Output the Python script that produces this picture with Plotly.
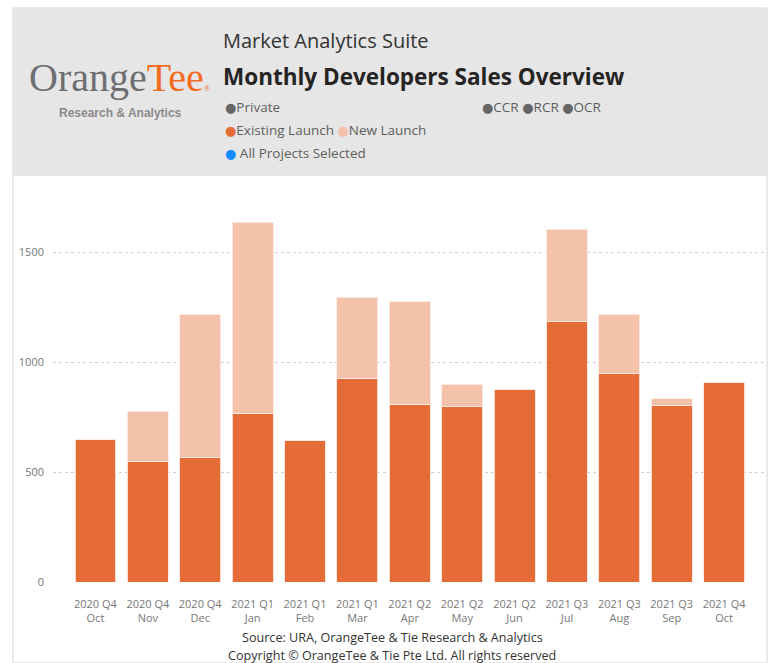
import plotly.graph_objects as go

W, H = 772, 663

quarters = ["2020 Q4", "2020 Q4", "2020 Q4", "2021 Q1", "2021 Q1", "2021 Q1",
            "2021 Q2", "2021 Q2", "2021 Q2", "2021 Q3", "2021 Q3", "2021 Q3", "2021 Q4"]
months = ["Oct", "Nov", "Dec", "Jan", "Feb", "Mar", "Apr", "May", "Jun",
          "Jul", "Aug", "Sep", "Oct"]
existing_launch = [650, 550, 564, 768, 645, 927, 809, 800, 873, 1183, 947, 803, 909]
new_launch = [0, 227, 654, 868, 0, 368, 464, 100, 0, 420, 270, 30, 0]
y_ticks = [0, 500, 1000, 1500]

labels = [f"{q}<br>{m}" for q, m in zip(quarters, months)]

ORANGE = "#E66C37"
PEACH = "#F4C2AB"
FONT = "Open Sans, Noto Sans, sans-serif"


def px(x):
    return x / W


def py(y):
    return 1 - y / H


fig = go.Figure()
fig.add_trace(go.Bar(x=labels, y=existing_launch, name="Existing Launch",
                     marker=dict(color=ORANGE, line=dict(color="rgba(255,230,220,0.9)", width=1))))
fig.add_trace(go.Bar(x=labels, y=new_launch, name="New Launch",
                     marker=dict(color=PEACH, line=dict(color="rgba(255,235,228,0.9)", width=1))))

plot_top, plot_bot = 195, 582
units_per_px = 500 / 110
fig.update_layout(
    width=W, height=H, barmode="stack", bargap=0.22,
    margin=dict(l=0, r=0, t=0, b=0),
    paper_bgcolor="white", plot_bgcolor="white",
    showlegend=False,
    font=dict(family=FONT, color="#777"),
    xaxis=dict(domain=[px(53), px(765)], range=[-0.81, 12.78], automargin=False,
               tickvals=labels, ticktext=labels, showgrid=False, showline=False,
               tickfont=dict(size=11, color="#777"), ticks="", ticklabelstandoff=14),
    yaxis=dict(domain=[py(plot_bot), py(plot_top)], automargin=False,
               range=[0, (plot_bot - plot_top) * units_per_px],
               tickvals=y_ticks, showgrid=True, gridcolor="#d0d0d0", griddash="dot",
               gridwidth=1, zeroline=False, showline=False,
               tickfont=dict(size=11, color="#777"), ticks="", ticklabelstandoff=8),
)

shapes = [
    # card border
    dict(type="rect", xref="paper", yref="paper", x0=px(13), x1=px(767), y0=py(663), y1=py(8),
         line=dict(color="#d4d4d4", width=1), fillcolor="rgba(0,0,0,0)", layer="below"),
    # header band
    dict(type="rect", xref="paper", yref="paper", x0=px(13), x1=px(767), y0=py(176), y1=py(8),
         line=dict(width=0), fillcolor="#E6E6E6", layer="below"),
]
fig.update_layout(shapes=shapes)

ann = []


def text(x, y, t, size, color="#333", xanchor="left", family=FONT):
    ann.append(dict(x=px(x), y=py(y), xref="paper", yref="paper", text=t, showarrow=False,
                    xanchor=xanchor, yanchor="middle", font=dict(size=size, color=color, family=family)))


# logo
text(119, 77, "<span style='color:#6d6e71'>Orange</span><span style='color:#F26B21'>Tee</span>"
     "<span style='color:#F26B21;font-size:8px'>®</span>",
     40, xanchor="center", family="Liberation Serif, serif")
text(120, 113, "<b>Research &amp; Analytics</b>", 12, color="#8a8a8a", xanchor="center",
     family="Liberation Sans, Arial, sans-serif")

# titles
text(221, 40, "Market Analytics Suite", 20, color="#333")
text(221, 76, "<b>Monthly Developers Sales Overview</b>", 22.5, color="#252423")

# legend-like slicers
dot = lambda c: f"<span style='color:{c};font-family:DejaVu Sans;font-size:13px'>●</span>"
text(223, 107, dot("#666") + "Private", 13.5, color="#605E5C")
text(480, 107, dot("#666") + "CCR " + dot("#666") + "RCR " + dot("#666") + "OCR", 13.5, color="#605E5C")
text(223, 130, dot(ORANGE) + "Existing Launch " + dot(PEACH) + "New Launch", 13.5, color="#605E5C")
text(223, 153, dot("#118DFF") + " All Projects Selected", 13.5, color="#605E5C")

# footer
text(392, 637, "Source: URA, OrangeTee &amp; Tie Research &amp; Analytics", 12.6, color="#333", xanchor="center")
text(392, 655, "Copyright © OrangeTee &amp; Tie Pte Ltd. All rights reserved", 12.6, color="#333", xanchor="center")

fig.update_layout(annotations=ann)
fig.write_html("out.html")
